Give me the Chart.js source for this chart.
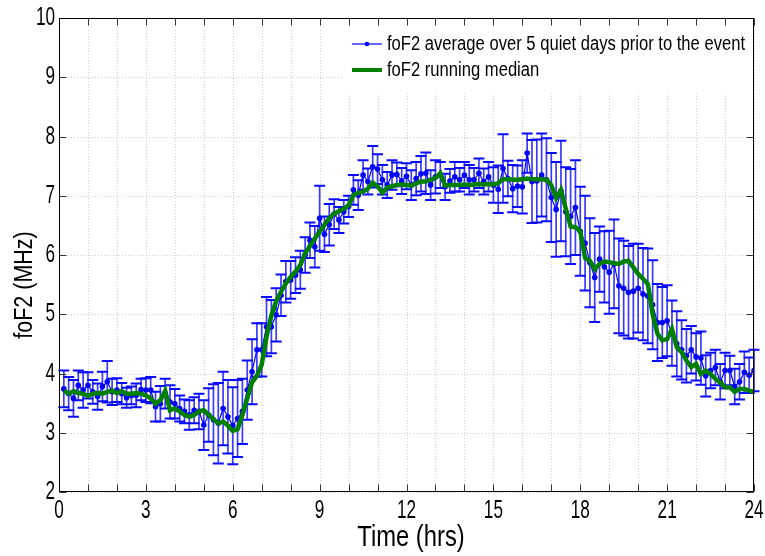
<!DOCTYPE html>
<html>
<head>
<meta charset="utf-8">
<script src="https://cdn.jsdelivr.net/npm/chart.js@4/dist/chart.umd.min.js"></script>
<style>
  html, body { margin: 0; padding: 0; background: #fff; }
  #wrap { width: 765px; height: 556px; }
</style>
</head>
<body>
<div id="wrap"><canvas id="c" width="765" height="556"></canvas></div>
<script>
// Sample times, minutes after midnight (10-minute cadence)
const minutes = [
  10, 20, 30, 40, 50, 60, 70, 80, 90, 100, 110, 120,
  130, 140, 150, 160, 170, 180, 190, 200, 210, 220, 230, 240,
  250, 260, 270, 280, 290, 300, 310, 320, 330, 340, 350, 360,
  370, 380, 390, 400, 410, 420, 430, 440, 450, 460, 470, 480,
  490, 500, 510, 520, 530, 540, 550, 560, 570, 580, 590, 600,
  610, 620, 630, 640, 650, 660, 670, 680, 690, 700, 710, 720,
  730, 740, 750, 760, 770, 780, 790, 800, 810, 820, 830, 840,
  850, 860, 870, 880, 890, 900, 910, 920, 930, 940, 950, 960,
  970, 980, 990, 1000, 1010, 1020, 1030, 1040, 1050, 1060, 1070, 1080,
  1090, 1100, 1110, 1120, 1130, 1140, 1150, 1160, 1170, 1180, 1190, 1200,
  1210, 1220, 1230, 1240, 1250, 1260, 1270, 1280, 1290, 1300, 1310, 1320,
  1330, 1340, 1350, 1360, 1370, 1380, 1390, 1400, 1410, 1420, 1430, 1440
];

// foF2 (MHz) averaged over the 5 quiet days
const foF2Mean = [
  3.74, 3.66, 3.58, 3.80, 3.72, 3.80, 3.69, 3.61, 3.78, 3.86, 3.69, 3.72,
  3.66, 3.59, 3.63, 3.63, 3.73, 3.72, 3.72, 3.44, 3.49, 3.66, 3.52, 3.49,
  3.41, 3.36, 3.30, 3.38, 3.36, 3.13, 3.30, 3.22, 3.16, 3.41, 3.27, 3.12,
  3.24, 3.36, 3.72, 4.03, 4.40, 4.40, 4.79, 4.79, 4.99, 5.32, 5.55, 5.58,
  5.66, 5.75, 6.00, 6.25, 6.14, 6.62, 6.35, 6.51, 6.69, 6.59, 6.73, 6.82,
  7.10, 7.01, 7.35, 7.24, 7.49, 7.45, 7.27, 7.18, 7.35, 7.36, 7.25, 7.33,
  7.18, 7.29, 7.37, 7.38, 7.18, 7.32, 7.35, 7.15, 7.25, 7.32, 7.27, 7.35,
  7.27, 7.27, 7.38, 7.24, 7.32, 7.18, 7.11, 7.46, 7.29, 7.12, 7.16, 7.15,
  7.72, 7.24, 7.25, 7.35, 7.27, 6.97, 6.77, 7.08, 6.73, 6.65, 6.80, 6.40,
  6.20, 5.87, 5.62, 5.93, 5.80, 5.71, 5.85, 5.48, 5.44, 5.37, 5.39, 5.44,
  5.34, 5.31, 5.16, 4.86, 4.86, 4.89, 4.68, 4.50, 4.40, 4.30, 4.40, 4.28,
  4.26, 3.96, 4.05, 4.10, 3.86, 4.05, 4.05, 3.78, 3.86, 4.02, 3.97, 4.05
];

// Standard deviation (MHz) of the 5-day average
const foF2Std = [
  0.31, 0.28, 0.31, 0.25, 0.30, 0.22, 0.20, 0.22, 0.25, 0.35, 0.22, 0.20,
  0.18, 0.17, 0.15, 0.20, 0.18, 0.20, 0.22, 0.25, 0.30, 0.25, 0.28, 0.25,
  0.22, 0.20, 0.25, 0.22, 0.30, 0.42, 0.45, 0.60, 0.68, 0.62, 0.62, 0.65,
  0.65, 0.55, 0.50, 0.55, 0.45, 0.45, 0.50, 0.45, 0.45, 0.35, 0.35, 0.32,
  0.30, 0.32, 0.30, 0.30, 0.35, 0.55, 0.30, 0.35, 0.25, 0.22, 0.20, 0.18,
  0.25, 0.25, 0.25, 0.22, 0.35, 0.25, 0.25, 0.22, 0.25, 0.20, 0.22, 0.22,
  0.25, 0.28, 0.30, 0.35, 0.25, 0.28, 0.22, 0.22, 0.20, 0.25, 0.20, 0.22,
  0.25, 0.20, 0.25, 0.22, 0.25, 0.30, 0.40, 0.58, 0.30, 0.40, 0.35, 0.45,
  0.33, 0.70, 0.70, 0.70, 0.70, 0.75, 0.80, 0.85, 0.75, 0.80, 0.80, 0.75,
  0.80, 0.75, 0.75, 0.55, 0.60, 0.70, 0.75, 0.80, 0.80, 0.78, 0.80, 0.75,
  0.78, 0.80, 0.75, 0.65, 0.60, 0.60, 0.55, 0.55, 0.50, 0.45, 0.40, 0.40,
  0.45, 0.35, 0.30, 0.30, 0.30, 0.30, 0.25, 0.30, 0.30, 0.35, 0.30, 0.35
];

// Running median of foF2 (MHz)
const foF2Median = [
  3.71, 3.66, 3.70, 3.67, 3.66, 3.62, 3.66, 3.67, 3.66, 3.69, 3.71, 3.67,
  3.70, 3.66, 3.66, 3.67, 3.66, 3.63, 3.58, 3.49, 3.55, 3.71, 3.38, 3.41,
  3.36, 3.30, 3.27, 3.30, 3.36, 3.38, 3.30, 3.23, 3.16, 3.19, 3.12, 3.03,
  3.06, 3.30, 3.58, 3.85, 3.96, 4.15, 4.62, 4.98, 5.22, 5.38, 5.52, 5.63,
  5.72, 5.83, 6.03, 6.15, 6.28, 6.39, 6.51, 6.62, 6.70, 6.74, 6.78, 6.84,
  7.01, 7.05, 7.07, 7.12, 7.22, 7.16, 7.05, 7.14, 7.16, 7.18, 7.19, 7.18,
  7.17, 7.21, 7.24, 7.24, 7.27, 7.30, 7.38, 7.17, 7.18, 7.18, 7.18, 7.19,
  7.18, 7.19, 7.20, 7.19, 7.20, 7.19, 7.21, 7.28, 7.28, 7.27, 7.27, 7.28,
  7.29, 7.28, 7.28, 7.28, 7.27, 7.18, 6.96, 7.10, 6.78, 6.48, 6.47, 6.40,
  5.95, 5.90, 5.76, 5.85, 5.89, 5.88, 5.86, 5.85, 5.89, 5.90, 5.79, 5.68,
  5.60, 5.51, 5.00, 4.67, 4.56, 4.58, 4.75, 4.44, 4.36, 4.22, 4.11, 4.16,
  3.99, 4.05, 3.99, 3.91, 3.85, 3.77, 3.77, 3.69, 3.74, 3.74, 3.71, 3.69
];

const xTickHours = [0, 3, 6, 9, 12, 15, 18, 21, 24];
const xGridHours = [0, 1, 2, 3, 4, 5, 6, 7, 8, 9, 10, 11, 12, 13, 14, 15, 16, 17, 18, 19, 20, 21, 22, 23, 24];
const yTickValues = [2, 3, 4, 5, 6, 7, 8, 9, 10];

const seriesLabels = [
  'foF2 average over 5 quiet days prior to the event',
  'foF2 running median'
];
const xTitle = 'Time (hrs)';
const yTitle = 'foF2 (MHz)';

const FONT = '"Liberation Sans", Arial, Helvetica, sans-serif';

const meanPoints = minutes.map((m, i) => ({ x: m / 60, y: foF2Mean[i] }));
const medianPoints = minutes.map((m, i) => ({ x: m / 60, y: foF2Median[i] }));

// Text drawn in a horizontally condensed face
function condensedText(ctx, text, x, y, size, sx, align) {
  ctx.save();
  ctx.translate(x, y);
  ctx.scale(sx, 1);
  ctx.font = size + 'px ' + FONT;
  ctx.textAlign = align;
  ctx.textBaseline = 'middle';
  ctx.fillStyle = '#000';
  ctx.fillText(text, 0, 0);
  ctx.restore();
}

// Dotted grid at every hour / every MHz, then error bars under the lines
const gridAndErrors = {
  id: 'gridAndErrors',
  beforeDatasetsDraw(chart) {
    const { ctx, chartArea: a, scales: { x, y } } = chart;
    ctx.save();
    ctx.strokeStyle = '#cfcfcf';
    ctx.lineWidth = 1;
    ctx.setLineDash([1, 2]);
    ctx.beginPath();
    xGridHours.forEach(h => {
      const px = Math.round(x.getPixelForValue(h)) + 0.5;
      ctx.moveTo(px, a.top); ctx.lineTo(px, a.bottom);
    });
    yTickValues.forEach(v => {
      const py = Math.round(y.getPixelForValue(v)) + 0.5;
      ctx.moveTo(a.left, py); ctx.lineTo(a.right, py);
    });
    ctx.stroke();
    ctx.setLineDash([]);

    // error bars: mean ± std
    meanPoints.forEach((p, i) => {
      const px = x.getPixelForValue(p.x);
      const top = y.getPixelForValue(p.y + foF2Std[i]);
      const bot = y.getPixelForValue(p.y - foF2Std[i]);
      ctx.strokeStyle = 'rgba(10,10,255,0.8)';
      ctx.lineWidth = 1.7;
      ctx.beginPath(); ctx.moveTo(px, top); ctx.lineTo(px, bot); ctx.stroke();
      ctx.strokeStyle = '#0a0aff';
      ctx.lineWidth = 2;
      ctx.beginPath();
      ctx.moveTo(px - 5.5, top); ctx.lineTo(px + 5.5, top);
      ctx.moveTo(px - 5.5, bot); ctx.lineTo(px + 5.5, bot);
      ctx.stroke();
    });
    ctx.restore();
  }
};

// Box frame with inward tick marks, tick labels, axis titles and the legend
const frameAndLegend = {
  id: 'frameAndLegend',
  afterDraw(chart) {
    const { ctx, chartArea: a, scales: { x, y } } = chart;
    ctx.save();
    ctx.strokeStyle = '#333';
    ctx.lineWidth = 1;
    const L = Math.round(a.left) + 0.5, R = Math.round(a.right) - 0.5;
    const T = Math.round(a.top) + 0.5, B = Math.round(a.bottom) - 0.5;
    const tk = 7;
    ctx.beginPath();
    xGridHours.forEach(h => {
      const px = Math.round(x.getPixelForValue(h)) + 0.5;
      ctx.moveTo(px, B); ctx.lineTo(px, B - tk);
      ctx.moveTo(px, T); ctx.lineTo(px, T + tk);
    });
    yTickValues.forEach(v => {
      const py = Math.round(y.getPixelForValue(v)) + 0.5;
      ctx.moveTo(L, py); ctx.lineTo(L + tk, py);
      ctx.moveTo(R, py); ctx.lineTo(R - tk, py);
    });
    ctx.stroke();
    ctx.strokeStyle = '#000';
    ctx.strokeRect(L, T, R - L, B - T);

    // tick labels
    xTickHours.forEach(h => condensedText(ctx, String(h), x.getPixelForValue(h), 511, 26, 0.66, 'center'));
    yTickValues.forEach(v => condensedText(ctx, String(v), 55, y.getPixelForValue(v), 26, 0.66, 'right'));

    // legend
    ctx.fillStyle = '#fff';
    ctx.fillRect(343, 27, 410, 66);
    const rows = [44, 70];
    ctx.strokeStyle = '#0000ff'; ctx.lineWidth = 1.2;
    ctx.beginPath(); ctx.moveTo(352, rows[0]); ctx.lineTo(382, rows[0]); ctx.stroke();
    ctx.fillStyle = '#0000ff';
    ctx.beginPath(); ctx.arc(367, rows[0], 2.3, 0, Math.PI * 2); ctx.fill();
    ctx.strokeStyle = '#008000'; ctx.lineWidth = 4;
    ctx.beginPath(); ctx.moveTo(352, rows[1]); ctx.lineTo(382, rows[1]); ctx.stroke();
    condensedText(ctx, seriesLabels[0], 387, rows[0], 20, 0.83, 'left');
    condensedText(ctx, seriesLabels[1], 387, rows[1], 20, 0.83, 'left');

    // axis titles
    condensedText(ctx, xTitle, 411, 538, 29, 0.82, 'center');
    ctx.translate(25, 285);
    ctx.rotate(-Math.PI / 2);
    ctx.scale(0.86, 1);
    ctx.font = '25px ' + FONT;
    ctx.textAlign = 'center';
    ctx.textBaseline = 'middle';
    ctx.fillStyle = '#000';
    ctx.fillText(yTitle, 0, 0);
    ctx.restore();
  }
};

new Chart(document.getElementById('c'), {
  type: 'line',
  data: {
    datasets: [
      {
        label: seriesLabels[1],
        data: medianPoints,
        borderColor: '#008000',
        borderWidth: 4.5,
        pointRadius: 0,
        tension: 0,
        order: 0
      },
      {
        label: seriesLabels[0],
        data: meanPoints,
        borderColor: '#0000ff',
        backgroundColor: '#0000ff',
        borderWidth: 1.2,
        pointRadius: 2.8,
        pointBorderWidth: 0,
        pointBackgroundColor: '#0000ff',
        tension: 0,
        order: 1
      }
    ]
  },
  options: {
    responsive: false,
    animation: false,
    devicePixelRatio: 1,
    layout: { padding: { top: 18, right: 11, left: 0, bottom: 0 } },
    plugins: { legend: { display: false }, tooltip: { enabled: false } },
    scales: {
      x: {
        type: 'linear',
        min: 0, max: 24,
        afterFit(s) { s.height = 64; },
        afterBuildTicks(s) { s.ticks = xTickHours.map(v => ({ value: v })); },
        grid: { display: false, drawTicks: false },
        border: { display: false },
        ticks: { display: false }
      },
      y: {
        min: 2, max: 10,
        afterFit(s) { s.width = 59; },
        afterBuildTicks(s) { s.ticks = yTickValues.map(v => ({ value: v })); },
        grid: { display: false, drawTicks: false },
        border: { display: false },
        ticks: { display: false }
      }
    }
  },
  plugins: [gridAndErrors, frameAndLegend]
});
</script>
</body>
</html>
